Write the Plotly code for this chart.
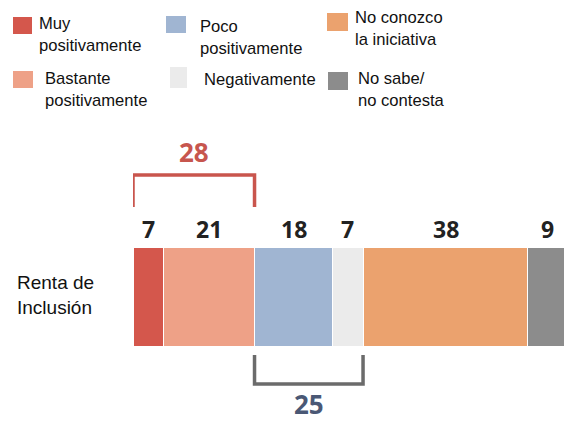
import plotly.graph_objects as go

# ---- data ----
categories = ["Muy<br>positivamente", "Bastante<br>positivamente", "Poco<br>positivamente",
              "Negativamente", "No conozco<br>la iniciativa", "No sabe/<br>no contesta"]
values = [7, 21, 18, 7, 38, 9]
row_label = "Renta de<br>Inclusión"
colors = ["#d4574c", "#eea187", "#a0b5d2", "#ebebeb", "#eba26e", "#8c8c8c"]
group_pos_label = "28"   # Muy + Bastante
group_neg_label = "25"   # Poco + Negativamente

W, H = 564, 426
def py(p):  # pixel y -> paper
    return 1 - p / H

fig = go.Figure()
for name, v, c in zip(categories, values, colors):
    fig.add_trace(go.Bar(
        y=[row_label], x=[v], name=name.replace("<br>", " "), orientation="h",
        width=1, marker=dict(color=c, line=dict(color="white", width=1)),
        showlegend=False, hoverinfo="x+name"))

annotations = []
shapes = []

# value labels above each segment
cum = 0
mids = []
for v in values:
    mids.append(cum + v / 2)
    cum += v
for m, v in zip(mids, values):
    annotations.append(dict(x=m, y=py(229), xref="x", yref="paper", text=f"<b>{v}</b>",
                            showarrow=False, font=dict(family="Open Sans", size=23, color="#222222"),
                            xanchor="center", yanchor="middle"))

# brackets
pos_end = values[0] + values[1]
neg_end = pos_end + values[2] + values[3]
yt, yb = py(175), py(207)
shapes.append(dict(type="path", xref="x", yref="paper",
                   path=f"M 0,{yb} L 0,{yt} L {pos_end},{yt} L {pos_end},{yb}",
                   line=dict(color="#c9554d", width=3.5)))
annotations.append(dict(x=pos_end / 2, y=py(152), xref="x", yref="paper",
                        text=f"<b>{group_pos_label}</b>", showarrow=False,
                        xanchor="center", yanchor="middle",
                        font=dict(family="Open Sans", size=26, color="#c7564e")))
yt2, yb2 = py(355), py(384)
shapes.append(dict(type="path", xref="x", yref="paper",
                   path=f"M {pos_end},{yt2} L {pos_end},{yb2} L {neg_end},{yb2} L {neg_end},{yt2}",
                   line=dict(color="#6b6b6b", width=3.5)))
annotations.append(dict(x=(pos_end + neg_end) / 2, y=py(404), xref="x", yref="paper",
                        text=f"<b>{group_neg_label}</b>", showarrow=False,
                        xanchor="center", yanchor="middle",
                        font=dict(family="Open Sans", size=26, color="#4a5875")))

# row label
annotations.append(dict(x=15 / W, y=py(295), xref="paper", yref="paper", text=row_label,
                        showarrow=False, xanchor="left", yanchor="middle", align="left",
                        font=dict(family="Liberation Sans, Arial", size=19, color="#111111")))

# manual legend (column-major order: Muy/Bastante, Poco/Negativamente, No conozco/No sabe)
legend_layout = [
    # square x0, x1, y0, y1, text x, text center y
    (13, 32, 17, 34, 37, 34),
    (13, 33, 71, 88, 43, 90),
    (166, 186, 16, 33, 198, 38),
    (170, 187, 67, 88, 202, 79),
    (327, 348, 13, 31, 353, 29),
    (328, 348, 72, 90, 356, 90),
]
for (x0, x1, y0, y1, tx, ty), name, c in zip(legend_layout, categories, colors):
    shapes.append(dict(type="rect", xref="paper", yref="paper", x0=x0 / W, x1=x1 / W,
                       y0=py(y1), y1=py(y0), fillcolor=c, line=dict(width=0)))
    annotations.append(dict(x=tx / W, y=py(ty), xref="paper", yref="paper", text=name,
                            showarrow=False, xanchor="left", yanchor="middle", align="left",
                            font=dict(family="Liberation Sans, Arial", size=16.6, color="#111111")))

fig.update_layout(
    width=W, height=H, margin=dict(l=0, r=0, t=0, b=0),
    barmode="stack", paper_bgcolor="white", plot_bgcolor="white",
    xaxis=dict(domain=[133 / W, 1], range=[0, 99.3], showgrid=False, zeroline=False,
               showticklabels=False, showline=False, fixedrange=True),
    yaxis=dict(domain=[py(346), py(247)], range=[-0.5, 0.5], showgrid=False, zeroline=False,
               showticklabels=False, showline=False, fixedrange=True),
    shapes=shapes, annotations=annotations, showlegend=False,
)
fig.write_html("out.html", config={"displayModeBar": False},
               post_script="document.body.style.margin='0';document.body.style.overflow='hidden';")
